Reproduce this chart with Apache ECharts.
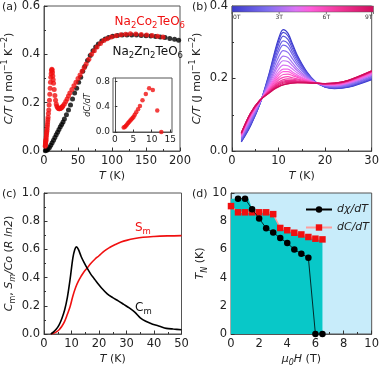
<!DOCTYPE html>
<html>
<head>
<meta charset="utf-8">
<script src="https://cdn.jsdelivr.net/npm/echarts@6/dist/echarts.min.js"></script>
<style>
  html, body { margin: 0; padding: 0; background: #fff; }
  #main { width: 382px; height: 368px; }
</style>
</head>
<body>
<div id="main"></div>
<script>
// ---- (a) C/T vs T ----
var znT = [2, 4, 6, 8, 10, 12, 14, 16, 18, 20, 22, 24, 26, 28, 30, 33, 36, 39, 42, 45, 48, 51, 54, 57, 60, 64, 68, 72, 76, 80, 85, 90, 95, 101, 108, 115, 122, 129, 136, 143, 150, 157, 164, 171, 178, 185, 192, 198];
var znC = [0.001, 0.003, 0.008, 0.015, 0.024, 0.034, 0.045, 0.056, 0.067, 0.078, 0.089, 0.1, 0.11, 0.12, 0.132, 0.15, 0.17, 0.19, 0.215, 0.24, 0.26, 0.285, 0.305, 0.33, 0.35, 0.375, 0.395, 0.415, 0.43, 0.443, 0.455, 0.463, 0.47, 0.475, 0.478, 0.48, 0.48, 0.48, 0.48, 0.478, 0.477, 0.476, 0.474, 0.472, 0.47, 0.466, 0.462, 0.458];
var coT = [1.8, 2.0, 2.2, 2.4, 2.6, 2.8, 3.0, 3.3, 3.6, 3.9, 4.2, 4.5, 4.8, 5.1, 5.4, 5.7, 6.0, 6.5, 7, 7.5, 8, 8.5, 9, 9.5, 10, 10.5, 11, 11.5, 12, 12.5, 13, 13.5, 14, 15, 16, 17, 18, 19, 20, 21, 22, 23, 24, 25, 26, 27, 28, 30, 32, 34, 36, 38, 41, 44, 47, 50, 53, 56, 59, 62, 66, 70, 74, 78, 83, 88, 93, 99, 106, 113, 120, 127, 135, 143, 151, 159, 167, 175];
var coC = [0.02, 0.025, 0.03, 0.035, 0.04, 0.045, 0.05, 0.058, 0.066, 0.074, 0.082, 0.09, 0.1, 0.11, 0.12, 0.13, 0.14, 0.155, 0.17, 0.19, 0.21, 0.235, 0.26, 0.285, 0.305, 0.32, 0.333, 0.338, 0.335, 0.325, 0.31, 0.295, 0.28, 0.255, 0.23, 0.21, 0.195, 0.185, 0.18, 0.177, 0.175, 0.175, 0.176, 0.178, 0.18, 0.183, 0.187, 0.195, 0.205, 0.215, 0.228, 0.24, 0.255, 0.27, 0.285, 0.3, 0.315, 0.33, 0.345, 0.36, 0.38, 0.4, 0.415, 0.43, 0.445, 0.457, 0.465, 0.472, 0.477, 0.481, 0.483, 0.485, 0.484, 0.482, 0.48, 0.478, 0.475, 0.472];
// inset dC/dT
var insT = [2.4, 2.7, 3.0, 3.3, 3.6, 3.9, 4.2, 4.5, 4.8, 5.1, 5.4, 5.8, 6.3, 6.8, 7.5, 8.4, 9.3, 10.3, 11.5, 12.6];
var insV = [0.07, 0.08, 0.1, 0.12, 0.14, 0.16, 0.18, 0.2, 0.22, 0.24, 0.27, 0.31, 0.36, 0.41, 0.5, 0.6, 0.69, 0.66, 0.34, 0.0];

// ---- (b) C/T in field ----
var fieldT = [2, 4, 6, 8, 9, 10, 11, 12, 13, 14, 16, 18, 20, 22, 25, 30];
var fields = [0, 0.5, 1, 1.5, 2, 2.5, 3, 3.5, 4, 4.5, 5, 5.5, 6, 6.5, 7, 7.5, 8, 8.5, 9];
var fieldC = [
  [0.025, 0.07, 0.13, 0.215, 0.265, 0.31, 0.335, 0.325, 0.295, 0.265, 0.22, 0.19, 0.176, 0.172, 0.176, 0.197],
  [0.026, 0.072, 0.13, 0.212, 0.26, 0.303, 0.327, 0.318, 0.29, 0.261, 0.218, 0.19, 0.177, 0.173, 0.177, 0.198],
  [0.028, 0.074, 0.131, 0.208, 0.254, 0.294, 0.317, 0.308, 0.282, 0.256, 0.216, 0.19, 0.177, 0.174, 0.178, 0.2],
  [0.03, 0.077, 0.132, 0.204, 0.246, 0.283, 0.304, 0.297, 0.273, 0.25, 0.214, 0.189, 0.178, 0.175, 0.18, 0.202],
  [0.032, 0.08, 0.133, 0.2, 0.238, 0.273, 0.292, 0.286, 0.265, 0.243, 0.211, 0.189, 0.179, 0.176, 0.181, 0.204],
  [0.035, 0.083, 0.134, 0.194, 0.229, 0.259, 0.277, 0.272, 0.254, 0.236, 0.208, 0.189, 0.18, 0.178, 0.183, 0.206],
  [0.037, 0.087, 0.135, 0.189, 0.219, 0.246, 0.262, 0.258, 0.243, 0.228, 0.205, 0.189, 0.181, 0.179, 0.185, 0.209],
  [0.039, 0.09, 0.136, 0.184, 0.212, 0.236, 0.249, 0.247, 0.235, 0.222, 0.202, 0.188, 0.182, 0.18, 0.187, 0.21],
  [0.041, 0.092, 0.136, 0.18, 0.204, 0.225, 0.237, 0.235, 0.226, 0.216, 0.2, 0.188, 0.182, 0.182, 0.188, 0.212],
  [0.043, 0.095, 0.137, 0.176, 0.198, 0.216, 0.226, 0.226, 0.218, 0.21, 0.197, 0.188, 0.183, 0.183, 0.189, 0.214],
  [0.044, 0.097, 0.138, 0.173, 0.193, 0.209, 0.219, 0.219, 0.213, 0.206, 0.196, 0.188, 0.184, 0.183, 0.19, 0.215],
  [0.045, 0.098, 0.138, 0.17, 0.188, 0.202, 0.211, 0.212, 0.208, 0.203, 0.194, 0.188, 0.184, 0.184, 0.191, 0.216],
  [0.047, 0.1, 0.139, 0.168, 0.183, 0.196, 0.203, 0.205, 0.202, 0.199, 0.192, 0.187, 0.185, 0.185, 0.192, 0.218],
  [0.048, 0.102, 0.139, 0.166, 0.18, 0.19, 0.197, 0.199, 0.198, 0.196, 0.191, 0.187, 0.185, 0.186, 0.193, 0.219],
  [0.048, 0.103, 0.139, 0.164, 0.177, 0.186, 0.193, 0.195, 0.195, 0.193, 0.19, 0.187, 0.185, 0.186, 0.194, 0.219],
  [0.049, 0.103, 0.14, 0.163, 0.175, 0.184, 0.19, 0.192, 0.192, 0.192, 0.19, 0.187, 0.186, 0.186, 0.194, 0.22],
  [0.049, 0.104, 0.14, 0.162, 0.173, 0.181, 0.187, 0.189, 0.19, 0.19, 0.189, 0.187, 0.186, 0.187, 0.194, 0.22],
  [0.05, 0.105, 0.14, 0.161, 0.171, 0.178, 0.183, 0.186, 0.188, 0.189, 0.188, 0.187, 0.186, 0.187, 0.195, 0.221],
  [0.05, 0.105, 0.14, 0.16, 0.17, 0.177, 0.182, 0.185, 0.187, 0.188, 0.188, 0.187, 0.186, 0.187, 0.195, 0.221]
];
var cbarLabels = ['0T', '3T', '6T', '9T'];

// ---- (c) magnetic heat capacity and entropy ----
var cmT = [2.5, 3.5, 4.5, 5.5, 6.5, 7.5, 8.5, 9.5, 10.5, 11.2, 11.8, 12.5, 13.5, 14.5, 15.8, 17, 18.2, 19.5, 21, 23, 25, 27, 29, 31, 33, 35, 37, 39.5, 42, 44.5, 47, 50];
var cmV = [0, 0.015, 0.035, 0.065, 0.11, 0.17, 0.26, 0.39, 0.54, 0.6, 0.618, 0.6, 0.55, 0.51, 0.463, 0.425, 0.394, 0.36, 0.325, 0.285, 0.258, 0.235, 0.21, 0.185, 0.155, 0.115, 0.09, 0.07, 0.055, 0.04, 0.035, 0.03];
var smT = [2.5, 3.5, 4.5, 5.5, 6.5, 7.5, 8.5, 9.5, 10.5, 11.5, 12.5, 13.5, 14.5, 15.8, 17, 18.5, 20, 22, 24, 26, 28, 30, 33, 36, 40, 45, 50];
var smV = [0, 0.005, 0.015, 0.03, 0.055, 0.09, 0.14, 0.195, 0.27, 0.33, 0.375, 0.41, 0.44, 0.47, 0.5, 0.53, 0.555, 0.59, 0.615, 0.635, 0.652, 0.664, 0.677, 0.686, 0.692, 0.696, 0.698];

// ---- (d) phase diagram ----
var chiH = [0.5, 1, 1.5, 2, 2.5, 3, 3.5, 4, 4.5, 5, 5.5, 6, 6.5];
var chiTN = [9.6, 9.6, 8.85, 8.2, 7.5, 7.2, 6.8, 6.45, 6.0, 5.7, 5.4, 0, 0];
var dcH = [0, 0.5, 1, 1.5, 2, 2.5, 3, 3.5, 4, 4.5, 5, 5.5, 6, 6.5];
var dcTN = [9.07, 8.63, 8.63, 8.63, 8.63, 8.63, 8.5, 7.52, 7.36, 7.18, 7.06, 6.88, 6.76, 6.71];
var phaseH = [0, 1.25, 1.5, 2, 2.5, 3, 3.5, 4, 4.5, 5, 5.5, 6, 6.5, 6.5];
var phaseTN = [9.6, 9.6, 8.85, 8.63, 8.63, 8.5, 7.52, 7.36, 7.18, 7.06, 6.88, 6.76, 6.71, 0];

function pairs(xs, ys) {
  return xs.map(function (x, i) { return [x, ys[i]]; });
}

// colormap of the field colour bar
var cmapStops = [[0, [58, 58, 204]], [0.25, [126, 110, 240]], [0.45, [220, 116, 245]], [0.55, [255, 93, 220]], [0.75, [242, 56, 154]], [1, [209, 12, 92]]];
function cmap(t) {
  for (var i = 1; i < cmapStops.length; i++) {
    if (t <= cmapStops[i][0]) {
      var a = cmapStops[i - 1], b = cmapStops[i];
      var f = (t - a[0]) / (b[0] - a[0]);
      var c = a[1].map(function (v, k) { return Math.round(v + (b[1][k] - v) * f); });
      return 'rgb(' + c.join(',') + ')';
    }
  }
  return 'rgb(209,12,92)';
}

var FONT = 'DejaVu Sans';
var frame = '#555';
var richSub = {
  i: { fontStyle: 'italic', fontSize: 11, fontFamily: FONT },
  sub: { fontSize: 8, verticalAlign: 'bottom', fontFamily: FONT },
  isub: { fontSize: 8, fontStyle: 'italic', verticalAlign: 'bottom', fontFamily: FONT },
  sup: { fontSize: 8, verticalAlign: 'top', fontFamily: FONT }
};

function mkAxis(grid, min, max, interval, fmt, name, nameGap, extra) {
  var ax = {
    gridIndex: grid, type: 'value', min: min, max: max, interval: interval,
    axisLine: { show: true, lineStyle: { color: frame, width: 1 } },
    axisTick: { show: true, inside: true, length: 3.5, lineStyle: { color: '#333' } },
    minorTick: { show: true, splitNumber: 2, length: 2, lineStyle: { color: '#333' } },
    splitLine: { show: false },
    axisLabel: { color: '#222', fontSize: 11.5, fontFamily: FONT, margin: 4, formatter: fmt },
    name: name, nameLocation: 'middle', nameGap: nameGap,
    nameTextStyle: { color: '#222', fontSize: 11, fontFamily: FONT, lineHeight: 16, rich: richSub }
  };
  if (extra) Object.assign(ax, extra);
  return ax;
}
var f1 = function (v) { return v.toFixed(1); };
var f0 = function (v) { return String(v); };

var grids = [
  { left: 38, top: 6, width: 142, height: 145 },
  { left: 113, top: 78, width: 59, height: 54, backgroundColor: '#fff' },
  { left: 232, top: 6, width: 141.5, height: 145 },
  { left: 39, top: 193, width: 142.5, height: 144 },
  { left: 231, top: 193, width: 142.5, height: 144, backgroundColor: '#c8ecfa' }
];
grids.forEach(function (g) { g.show = true; g.borderColor = frame; g.borderWidth = 1; if (!g.backgroundColor) g.backgroundColor = 'transparent'; });

var xAxes = [
  mkAxis(0, 0, 200, 50, f0, '{i|T} (K)', 17),
  mkAxis(1, -0.5, 15.5, 5, f0, '', 0, {
    axisLabel: { color: '#222', fontSize: 9, fontFamily: FONT, margin: 3, customValues: [0, 5, 10, 15] },
    axisTick: { show: true, inside: true, length: 2.5, customValues: [0, 5, 10, 15], lineStyle: { color: '#333' } },
    minorTick: { show: false }
  }),
  mkAxis(2, 0, 30, 10, f0, '{i|T} (K)', 17),
  mkAxis(3, 0, 50, 10, f0, '{i|T} (K)', 17),
  mkAxis(4, 0, 10, 2, f0, '{i|μ}{isub|0}{i|H} (T)', 17)
];
var yAxes = [
  mkAxis(0, 0, 0.6, 0.2, f1, '{i|C/T} (J mol{sup|−1} K{sup|−2})', 27),
  mkAxis(1, 0, 0.85, 0.4, f1, 'dC/dT', 14, {
    axisLabel: { color: '#222', fontSize: 9, fontFamily: FONT, margin: 3, customValues: [0, 0.4, 0.8], formatter: f1 },
    axisTick: { show: true, inside: true, length: 2.5, customValues: [0, 0.4, 0.8], lineStyle: { color: '#333' } },
    minorTick: { show: false },
    nameTextStyle: { color: '#222', fontSize: 8, fontFamily: FONT, fontStyle: 'italic' }
  }),
  mkAxis(2, 0, 0.4, 0.2, f1, '{i|C/T} (J mol{sup|−1} K{sup|−2})', 27),
  mkAxis(3, 0, 1.0, 0.2, f1, '{i|C}{sub|m}, {i|S}{isub|m}{i|/Co} ({i|R ln2})', 27),
  mkAxis(4, 0, 10, 2, f0, '{i|T}{isub|N} (K)', 20)
];

var series = [
  { type: 'scatter', xAxisIndex: 0, yAxisIndex: 0, data: pairs(znT, znC), symbolSize: 5, itemStyle: { color: '#000' } },
  { type: 'scatter', xAxisIndex: 0, yAxisIndex: 0, data: pairs(coT, coC), symbolSize: 5, itemStyle: { color: '#f01010' } },
  { type: 'scatter', xAxisIndex: 1, yAxisIndex: 1, data: pairs(insT, insV), symbolSize: 4.5, itemStyle: { color: '#f01010' } }
];
fieldC.forEach(function (row, k) {
  series.push({
    type: 'line', name: fields[k] + 'T', xAxisIndex: 2, yAxisIndex: 2, data: pairs(fieldT, row),
    smooth: 0.35, showSymbol: false, silent: true,
    lineStyle: { color: cmap(fields[k] / 9), width: 1.2 }
  });
});
series.push(
  { type: 'line', xAxisIndex: 3, yAxisIndex: 3, data: pairs(smT, smV), smooth: 0.4, showSymbol: false, lineStyle: { color: '#f01010', width: 1.6 } },
  { type: 'line', xAxisIndex: 3, yAxisIndex: 3, data: pairs(cmT, cmV), smooth: 0.3, showSymbol: false, lineStyle: { color: '#000', width: 1.6 } },
  { type: 'line', xAxisIndex: 4, yAxisIndex: 4, data: pairs(phaseH, phaseTN), showSymbol: false, silent: true, z: 1,
    lineStyle: { width: 0 }, areaStyle: { color: '#08c8c8', opacity: 1 } },
  { type: 'line', name: 'dχ/dT', xAxisIndex: 4, yAxisIndex: 4, data: pairs(chiH, chiTN), symbol: 'circle', symbolSize: 6.5,
    itemStyle: { color: '#000' }, lineStyle: { color: '#000', width: 0.8 }, z: 4 },
  { type: 'line', name: 'dC/dT', xAxisIndex: 4, yAxisIndex: 4, data: pairs(dcH, dcTN), symbol: 'rect', symbolSize: 6.5,
    itemStyle: { color: '#f01010' }, lineStyle: { color: '#ff9c9c', width: 1.5 }, z: 3 }
);

// colour bar in panel (b)
var cbX = 232, cbW = 141.5, cbY = 6, cbH = 6;
var cbStops = cmapStops.map(function (s) { return { offset: s[0], color: 'rgb(' + s[1].join(',') + ')' }; });
var graphics = [
  { type: 'rect', shape: { x: cbX, y: cbY, width: cbW, height: cbH }, style: { fill: new echarts.graphic.LinearGradient(0, 0, 1, 0, cbStops), stroke: '#555', lineWidth: 0.5 }, z: 10 }
];
cbarLabels.forEach(function (lab, k) {
  var x = cbX + cbW * k / 3;
  graphics.push({ type: 'line', shape: { x1: x, y1: cbY + cbH, x2: x, y2: cbY + cbH + 2 }, style: { stroke: '#555', lineWidth: 0.8 }, z: 10 });
  graphics.push({ type: 'text', x: k === 0 ? x + 1 : (k === 3 ? x - 1 : x), y: cbY + cbH + 2.5, z: 10,
    style: { text: lab, fontSize: 6, fontFamily: FONT, fill: '#333', align: k === 0 ? 'left' : (k === 3 ? 'right' : 'center'), verticalAlign: 'top' } });
});
// panel letters
[['(a)', 2, 7], ['(b)', 192, 7], ['(c)', 2, 194], ['(d)', 192, 194]].forEach(function (p) {
  graphics.push({ type: 'text', x: p[1], y: p[2], style: { text: p[0], fontSize: 11, fontFamily: FONT, fill: '#222', verticalAlign: 'middle' } });
});
var textRich = {
  s: { fontSize: 8.5, verticalAlign: 'bottom', fontFamily: FONT }
};
graphics.push(
  { type: 'text', x: 185, y: 22, style: { text: 'Na{s|2}Co{s|2}TeO{s|6}', rich: textRich, fontSize: 12, lineHeight: 17, fontFamily: FONT, fill: '#f01010', align: 'right', verticalAlign: 'middle' } },
  { type: 'text', x: 183, y: 52, style: { text: 'Na{s|2}Zn{s|2}TeO{s|6}', rich: textRich, fontSize: 12, lineHeight: 17, fontFamily: FONT, fill: '#111', align: 'right', verticalAlign: 'middle' } },
  { type: 'text', x: 135, y: 228, style: { text: 'S{s|m}', rich: textRich, fontSize: 12, lineHeight: 17, fontFamily: FONT, fill: '#f01010', verticalAlign: 'middle' } },
  { type: 'text', x: 135, y: 308, style: { text: 'C{s|m}', rich: textRich, fontSize: 12, lineHeight: 17, fontFamily: FONT, fill: '#111', verticalAlign: 'middle' } }
);

var myChart = echarts.init(document.getElementById('main'), null, { renderer: 'canvas' });
myChart.setOption({
  animation: false,
  backgroundColor: '#fff',
  textStyle: { fontFamily: FONT },
  grid: grids,
  xAxis: xAxes,
  yAxis: yAxes,
  legend: {
    data: ['dχ/dT', 'dC/dT'], orient: 'vertical', left: 300, top: 199,
    itemWidth: 26, itemHeight: 8, itemGap: 7,
    textStyle: { fontSize: 11, fontStyle: 'italic', fontFamily: FONT, color: '#222' }
  },
  series: series,
  graphic: graphics
});
</script>
</body>
</html>
